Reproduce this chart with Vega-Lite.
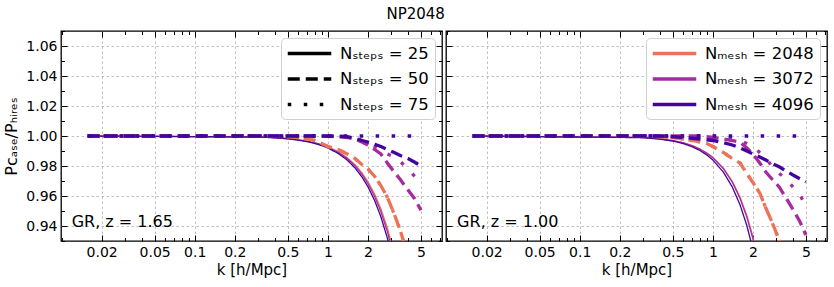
{
"$schema": "https://vega.github.io/schema/vega-lite/v6.json",
"padding": {"left": 3, "top": 6, "right": 8, "bottom": 4},
"title": {"text": "NP2048", "fontSize": 15, "fontWeight": "normal", "font": "DejaVu Sans", "anchor": "middle", "offset": 8, "color": "#000"},
"datasets": {
"labels": [{"p": "L", "label": "GR, z = 1.65"}, {"p": "R", "label": "GR, z = 1.00"}],
"curves": [
{"p":"L","m":2048,"s":25,"k":0.0157,"r":1},{"p":"L","m":2048,"s":25,"k":0.3,"r":0.9994},{"p":"L","m":2048,"s":25,"k":0.4,"r":0.9989},{"p":"L","m":2048,"s":25,"k":0.5,"r":0.9983},{"p":"L","m":2048,"s":25,"k":0.6,"r":0.9975},{"p":"L","m":2048,"s":25,"k":0.7,"r":0.9966},{"p":"L","m":2048,"s":25,"k":0.8,"r":0.9955},{"p":"L","m":2048,"s":25,"k":0.9,"r":0.9942},{"p":"L","m":2048,"s":25,"k":1,"r":0.9928},{"p":"L","m":2048,"s":25,"k":1.2,"r":0.9895},{"p":"L","m":2048,"s":25,"k":1.4,"r":0.9855},{"p":"L","m":2048,"s":25,"k":1.6,"r":0.9809},{"p":"L","m":2048,"s":25,"k":1.8,"r":0.9755},{"p":"L","m":2048,"s":25,"k":2,"r":0.9696},{"p":"L","m":2048,"s":25,"k":2.25,"r":0.9611},{"p":"L","m":2048,"s":25,"k":2.5,"r":0.9516},{"p":"L","m":2048,"s":25,"k":2.8,"r":0.9387},{"p":"L","m":2048,"s":25,"k":3.15,"r":0.9217},{"p":"L","m":2048,"s":25,"k":3.5,"r":0.9025},
{"p":"L","m":2048,"s":50,"k":0.0157,"r":1},{"p":"L","m":2048,"s":50,"k":0.3,"r":1},{"p":"L","m":2048,"s":50,"k":0.4,"r":0.9998},{"p":"L","m":2048,"s":50,"k":0.5,"r":0.9995},{"p":"L","m":2048,"s":50,"k":0.6,"r":0.999},{"p":"L","m":2048,"s":50,"k":0.7,"r":0.998},{"p":"L","m":2048,"s":50,"k":0.8,"r":0.997},{"p":"L","m":2048,"s":50,"k":0.9,"r":0.995},{"p":"L","m":2048,"s":50,"k":1,"r":0.993},{"p":"L","m":2048,"s":50,"k":1.2,"r":0.991},{"p":"L","m":2048,"s":50,"k":1.4,"r":0.988},{"p":"L","m":2048,"s":50,"k":1.6,"r":0.985},{"p":"L","m":2048,"s":50,"k":1.8,"r":0.981},{"p":"L","m":2048,"s":50,"k":2,"r":0.978},{"p":"L","m":2048,"s":50,"k":2.25,"r":0.973},{"p":"L","m":2048,"s":50,"k":2.5,"r":0.967},{"p":"L","m":2048,"s":50,"k":2.8,"r":0.959},{"p":"L","m":2048,"s":50,"k":3.15,"r":0.948},{"p":"L","m":2048,"s":50,"k":3.5,"r":0.937},{"p":"L","m":2048,"s":50,"k":4,"r":0.92},
{"p":"L","m":2048,"s":75,"k":0.0157,"r":1},{"p":"L","m":2048,"s":75,"k":0.3,"r":1},{"p":"L","m":2048,"s":75,"k":0.4,"r":0.9998},{"p":"L","m":2048,"s":75,"k":0.5,"r":0.9995},{"p":"L","m":2048,"s":75,"k":0.6,"r":0.999},{"p":"L","m":2048,"s":75,"k":0.7,"r":0.998},{"p":"L","m":2048,"s":75,"k":0.8,"r":0.997},{"p":"L","m":2048,"s":75,"k":0.9,"r":0.995},{"p":"L","m":2048,"s":75,"k":1,"r":0.993},{"p":"L","m":2048,"s":75,"k":1.2,"r":0.991},{"p":"L","m":2048,"s":75,"k":1.4,"r":0.988},{"p":"L","m":2048,"s":75,"k":1.6,"r":0.985},{"p":"L","m":2048,"s":75,"k":1.8,"r":0.981},{"p":"L","m":2048,"s":75,"k":2,"r":0.978},{"p":"L","m":2048,"s":75,"k":2.25,"r":0.973},{"p":"L","m":2048,"s":75,"k":2.5,"r":0.967},{"p":"L","m":2048,"s":75,"k":2.8,"r":0.959},{"p":"L","m":2048,"s":75,"k":3.15,"r":0.948},{"p":"L","m":2048,"s":75,"k":3.5,"r":0.937},{"p":"L","m":2048,"s":75,"k":4,"r":0.92},
{"p":"R","m":2048,"s":25,"k":0.0157,"r":1},{"p":"R","m":2048,"s":25,"k":0.3,"r":0.999},{"p":"R","m":2048,"s":25,"k":0.4,"r":0.9982},{"p":"R","m":2048,"s":25,"k":0.5,"r":0.997},{"p":"R","m":2048,"s":25,"k":0.6,"r":0.9955},{"p":"R","m":2048,"s":25,"k":0.7,"r":0.9936},{"p":"R","m":2048,"s":25,"k":0.8,"r":0.9914},{"p":"R","m":2048,"s":25,"k":0.9,"r":0.9888},{"p":"R","m":2048,"s":25,"k":1,"r":0.9858},{"p":"R","m":2048,"s":25,"k":1.2,"r":0.9786},{"p":"R","m":2048,"s":25,"k":1.4,"r":0.9698},{"p":"R","m":2048,"s":25,"k":1.6,"r":0.9593},{"p":"R","m":2048,"s":25,"k":1.8,"r":0.947},{"p":"R","m":2048,"s":25,"k":2,"r":0.9329},{"p":"R","m":2048,"s":25,"k":2.25,"r":0.9127},
{"p":"R","m":2048,"s":50,"k":0.0157,"r":1},{"p":"R","m":2048,"s":50,"k":0.3,"r":1},{"p":"R","m":2048,"s":50,"k":0.4,"r":0.9995},{"p":"R","m":2048,"s":50,"k":0.5,"r":0.999},{"p":"R","m":2048,"s":50,"k":0.6,"r":0.998},{"p":"R","m":2048,"s":50,"k":0.7,"r":0.997},{"p":"R","m":2048,"s":50,"k":0.8,"r":0.996},{"p":"R","m":2048,"s":50,"k":0.9,"r":0.995},{"p":"R","m":2048,"s":50,"k":1,"r":0.993},{"p":"R","m":2048,"s":50,"k":1.2,"r":0.989},{"p":"R","m":2048,"s":50,"k":1.4,"r":0.985},{"p":"R","m":2048,"s":50,"k":1.6,"r":0.982},{"p":"R","m":2048,"s":50,"k":1.8,"r":0.975},{"p":"R","m":2048,"s":50,"k":2,"r":0.969},{"p":"R","m":2048,"s":50,"k":2.25,"r":0.962},{"p":"R","m":2048,"s":50,"k":2.5,"r":0.952},{"p":"R","m":2048,"s":50,"k":2.8,"r":0.942},{"p":"R","m":2048,"s":50,"k":3.15,"r":0.9305},{"p":"R","m":2048,"s":50,"k":3.5,"r":0.92},
{"p":"R","m":2048,"s":75,"k":0.0157,"r":1},{"p":"R","m":2048,"s":75,"k":0.3,"r":1},{"p":"R","m":2048,"s":75,"k":0.4,"r":0.9995},{"p":"R","m":2048,"s":75,"k":0.5,"r":0.999},{"p":"R","m":2048,"s":75,"k":0.6,"r":0.998},{"p":"R","m":2048,"s":75,"k":0.7,"r":0.997},{"p":"R","m":2048,"s":75,"k":0.8,"r":0.996},{"p":"R","m":2048,"s":75,"k":0.9,"r":0.995},{"p":"R","m":2048,"s":75,"k":1,"r":0.993},{"p":"R","m":2048,"s":75,"k":1.2,"r":0.989},{"p":"R","m":2048,"s":75,"k":1.4,"r":0.985},{"p":"R","m":2048,"s":75,"k":1.6,"r":0.982},{"p":"R","m":2048,"s":75,"k":1.8,"r":0.975},{"p":"R","m":2048,"s":75,"k":2,"r":0.969},{"p":"R","m":2048,"s":75,"k":2.25,"r":0.962},{"p":"R","m":2048,"s":75,"k":2.5,"r":0.952},{"p":"R","m":2048,"s":75,"k":2.8,"r":0.942},{"p":"R","m":2048,"s":75,"k":3.15,"r":0.9305},{"p":"R","m":2048,"s":75,"k":3.5,"r":0.92},
{"p":"L","m":3072,"s":25,"k":0.0157,"r":1},{"p":"L","m":3072,"s":25,"k":0.3,"r":0.9994},{"p":"L","m":3072,"s":25,"k":0.4,"r":0.9989},{"p":"L","m":3072,"s":25,"k":0.5,"r":0.9982},{"p":"L","m":3072,"s":25,"k":0.6,"r":0.9974},{"p":"L","m":3072,"s":25,"k":0.7,"r":0.9964},{"p":"L","m":3072,"s":25,"k":0.8,"r":0.9953},{"p":"L","m":3072,"s":25,"k":0.9,"r":0.994},{"p":"L","m":3072,"s":25,"k":1,"r":0.9925},{"p":"L","m":3072,"s":25,"k":1.2,"r":0.989},{"p":"L","m":3072,"s":25,"k":1.4,"r":0.9849},{"p":"L","m":3072,"s":25,"k":1.6,"r":0.9801},{"p":"L","m":3072,"s":25,"k":1.8,"r":0.9745},{"p":"L","m":3072,"s":25,"k":2,"r":0.9683},{"p":"L","m":3072,"s":25,"k":2.25,"r":0.9595},{"p":"L","m":3072,"s":25,"k":2.5,"r":0.9496},{"p":"L","m":3072,"s":25,"k":2.8,"r":0.9362},{"p":"L","m":3072,"s":25,"k":3.15,"r":0.9184},{"p":"L","m":3072,"s":25,"k":3.5,"r":0.8984},
{"p":"L","m":3072,"s":50,"k":0.0157,"r":1},{"p":"L","m":3072,"s":50,"k":0.8,"r":1},{"p":"L","m":3072,"s":50,"k":1,"r":0.9998},{"p":"L","m":3072,"s":50,"k":1.2,"r":0.9995},{"p":"L","m":3072,"s":50,"k":1.4,"r":0.999},{"p":"L","m":3072,"s":50,"k":1.6,"r":0.998},{"p":"L","m":3072,"s":50,"k":1.8,"r":0.996},{"p":"L","m":3072,"s":50,"k":2,"r":0.994},{"p":"L","m":3072,"s":50,"k":2.25,"r":0.991},{"p":"L","m":3072,"s":50,"k":2.5,"r":0.988},{"p":"L","m":3072,"s":50,"k":2.8,"r":0.982},{"p":"L","m":3072,"s":50,"k":3.15,"r":0.976},{"p":"L","m":3072,"s":50,"k":3.5,"r":0.971},{"p":"L","m":3072,"s":50,"k":4,"r":0.964},{"p":"L","m":3072,"s":50,"k":4.5,"r":0.958},{"p":"L","m":3072,"s":50,"k":5,"r":0.9505},
{"p":"L","m":3072,"s":75,"k":0.0157,"r":1},{"p":"L","m":3072,"s":75,"k":1.2,"r":1},{"p":"L","m":3072,"s":75,"k":1.4,"r":0.9995},{"p":"L","m":3072,"s":75,"k":1.6,"r":0.999},{"p":"L","m":3072,"s":75,"k":1.8,"r":0.997},{"p":"L","m":3072,"s":75,"k":2,"r":0.995},{"p":"L","m":3072,"s":75,"k":2.25,"r":0.993},{"p":"L","m":3072,"s":75,"k":2.5,"r":0.991},{"p":"L","m":3072,"s":75,"k":2.8,"r":0.988},{"p":"L","m":3072,"s":75,"k":3.15,"r":0.986},{"p":"L","m":3072,"s":75,"k":3.5,"r":0.983},{"p":"L","m":3072,"s":75,"k":4,"r":0.978},{"p":"L","m":3072,"s":75,"k":4.5,"r":0.973},{"p":"L","m":3072,"s":75,"k":5,"r":0.967},
{"p":"R","m":3072,"s":25,"k":0.0157,"r":1},{"p":"R","m":3072,"s":25,"k":0.3,"r":0.999},{"p":"R","m":3072,"s":25,"k":0.4,"r":0.9981},{"p":"R","m":3072,"s":25,"k":0.5,"r":0.9969},{"p":"R","m":3072,"s":25,"k":0.6,"r":0.9954},{"p":"R","m":3072,"s":25,"k":0.7,"r":0.9935},{"p":"R","m":3072,"s":25,"k":0.8,"r":0.9912},{"p":"R","m":3072,"s":25,"k":0.9,"r":0.9885},{"p":"R","m":3072,"s":25,"k":1,"r":0.9855},{"p":"R","m":3072,"s":25,"k":1.2,"r":0.9782},{"p":"R","m":3072,"s":25,"k":1.4,"r":0.9692},{"p":"R","m":3072,"s":25,"k":1.6,"r":0.9584},{"p":"R","m":3072,"s":25,"k":1.8,"r":0.9459},{"p":"R","m":3072,"s":25,"k":2,"r":0.9315},{"p":"R","m":3072,"s":25,"k":2.25,"r":0.9108},
{"p":"R","m":3072,"s":50,"k":0.0157,"r":1},{"p":"R","m":3072,"s":50,"k":0.8,"r":1},{"p":"R","m":3072,"s":50,"k":0.9,"r":0.9995},{"p":"R","m":3072,"s":50,"k":1,"r":0.999},{"p":"R","m":3072,"s":50,"k":1.2,"r":0.998},{"p":"R","m":3072,"s":50,"k":1.4,"r":0.997},{"p":"R","m":3072,"s":50,"k":1.6,"r":0.996},{"p":"R","m":3072,"s":50,"k":1.8,"r":0.992},{"p":"R","m":3072,"s":50,"k":2,"r":0.988},{"p":"R","m":3072,"s":50,"k":2.25,"r":0.982},{"p":"R","m":3072,"s":50,"k":2.5,"r":0.976},{"p":"R","m":3072,"s":50,"k":2.8,"r":0.971},{"p":"R","m":3072,"s":50,"k":3.15,"r":0.966},{"p":"R","m":3072,"s":50,"k":3.5,"r":0.9595},{"p":"R","m":3072,"s":50,"k":4,"r":0.951},{"p":"R","m":3072,"s":50,"k":4.5,"r":0.943},{"p":"R","m":3072,"s":50,"k":5,"r":0.934},
{"p":"R","m":3072,"s":75,"k":0.0157,"r":1},{"p":"R","m":3072,"s":75,"k":1,"r":1},{"p":"R","m":3072,"s":75,"k":1.2,"r":0.999},{"p":"R","m":3072,"s":75,"k":1.4,"r":0.998},{"p":"R","m":3072,"s":75,"k":1.6,"r":0.997},{"p":"R","m":3072,"s":75,"k":1.8,"r":0.995},{"p":"R","m":3072,"s":75,"k":2,"r":0.993},{"p":"R","m":3072,"s":75,"k":2.25,"r":0.989},{"p":"R","m":3072,"s":75,"k":2.5,"r":0.986},{"p":"R","m":3072,"s":75,"k":2.8,"r":0.979},{"p":"R","m":3072,"s":75,"k":3.15,"r":0.975},{"p":"R","m":3072,"s":75,"k":3.5,"r":0.972},{"p":"R","m":3072,"s":75,"k":4,"r":0.966},{"p":"R","m":3072,"s":75,"k":4.5,"r":0.961},{"p":"R","m":3072,"s":75,"k":5,"r":0.953},
{"p":"L","m":4096,"s":25,"k":0.0157,"r":1},{"p":"L","m":4096,"s":25,"k":0.3,"r":0.9993},{"p":"L","m":4096,"s":25,"k":0.4,"r":0.9988},{"p":"L","m":4096,"s":25,"k":0.5,"r":0.9981},{"p":"L","m":4096,"s":25,"k":0.6,"r":0.9972},{"p":"L","m":4096,"s":25,"k":0.7,"r":0.9962},{"p":"L","m":4096,"s":25,"k":0.8,"r":0.995},{"p":"L","m":4096,"s":25,"k":0.9,"r":0.9936},{"p":"L","m":4096,"s":25,"k":1,"r":0.992},{"p":"L","m":4096,"s":25,"k":1.2,"r":0.9883},{"p":"L","m":4096,"s":25,"k":1.4,"r":0.9839},{"p":"L","m":4096,"s":25,"k":1.6,"r":0.9787},{"p":"L","m":4096,"s":25,"k":1.8,"r":0.9728},{"p":"L","m":4096,"s":25,"k":2,"r":0.9662},{"p":"L","m":4096,"s":25,"k":2.25,"r":0.9568},{"p":"L","m":4096,"s":25,"k":2.5,"r":0.9462},{"p":"L","m":4096,"s":25,"k":2.8,"r":0.9319},{"p":"L","m":4096,"s":25,"k":3.15,"r":0.913},{"p":"L","m":4096,"s":25,"k":3.5,"r":0.892},
{"p":"L","m":4096,"s":50,"k":0.0157,"r":1},{"p":"L","m":4096,"s":50,"k":1.2,"r":1},{"p":"L","m":4096,"s":50,"k":1.4,"r":0.9995},{"p":"L","m":4096,"s":50,"k":1.6,"r":0.9985},{"p":"L","m":4096,"s":50,"k":1.8,"r":0.997},{"p":"L","m":4096,"s":50,"k":2,"r":0.996},{"p":"L","m":4096,"s":50,"k":2.25,"r":0.9945},{"p":"L","m":4096,"s":50,"k":2.5,"r":0.993},{"p":"L","m":4096,"s":50,"k":2.8,"r":0.991},{"p":"L","m":4096,"s":50,"k":3.15,"r":0.989},{"p":"L","m":4096,"s":50,"k":3.5,"r":0.987},{"p":"L","m":4096,"s":50,"k":4,"r":0.985},{"p":"L","m":4096,"s":50,"k":4.5,"r":0.9825},{"p":"L","m":4096,"s":50,"k":5,"r":0.98},
{"p":"L","m":4096,"s":75,"k":0.0157,"r":1},{"p":"L","m":4096,"s":75,"k":1,"r":1},{"p":"L","m":4096,"s":75,"k":5,"r":1},
{"p":"R","m":4096,"s":25,"k":0.0157,"r":1},{"p":"R","m":4096,"s":25,"k":0.3,"r":0.9989},{"p":"R","m":4096,"s":25,"k":0.4,"r":0.9979},{"p":"R","m":4096,"s":25,"k":0.5,"r":0.9966},{"p":"R","m":4096,"s":25,"k":0.6,"r":0.9949},{"p":"R","m":4096,"s":25,"k":0.7,"r":0.9928},{"p":"R","m":4096,"s":25,"k":0.8,"r":0.9903},{"p":"R","m":4096,"s":25,"k":0.9,"r":0.9874},{"p":"R","m":4096,"s":25,"k":1,"r":0.984},{"p":"R","m":4096,"s":25,"k":1.2,"r":0.9759},{"p":"R","m":4096,"s":25,"k":1.4,"r":0.966},{"p":"R","m":4096,"s":25,"k":1.6,"r":0.9541},{"p":"R","m":4096,"s":25,"k":1.8,"r":0.9403},{"p":"R","m":4096,"s":25,"k":2,"r":0.9244},{"p":"R","m":4096,"s":25,"k":2.25,"r":0.9016},
{"p":"R","m":4096,"s":50,"k":0.0157,"r":1},{"p":"R","m":4096,"s":50,"k":0.4,"r":1},{"p":"R","m":4096,"s":50,"k":0.5,"r":0.9995},{"p":"R","m":4096,"s":50,"k":0.6,"r":0.999},{"p":"R","m":4096,"s":50,"k":0.7,"r":0.9985},{"p":"R","m":4096,"s":50,"k":0.8,"r":0.998},{"p":"R","m":4096,"s":50,"k":0.9,"r":0.9975},{"p":"R","m":4096,"s":50,"k":1,"r":0.997},{"p":"R","m":4096,"s":50,"k":1.2,"r":0.9955},{"p":"R","m":4096,"s":50,"k":1.4,"r":0.994},{"p":"R","m":4096,"s":50,"k":1.6,"r":0.992},{"p":"R","m":4096,"s":50,"k":1.8,"r":0.99},{"p":"R","m":4096,"s":50,"k":2,"r":0.988},{"p":"R","m":4096,"s":50,"k":2.25,"r":0.986},{"p":"R","m":4096,"s":50,"k":2.5,"r":0.984},{"p":"R","m":4096,"s":50,"k":2.8,"r":0.9815},{"p":"R","m":4096,"s":50,"k":3.15,"r":0.9795},{"p":"R","m":4096,"s":50,"k":3.5,"r":0.977},{"p":"R","m":4096,"s":50,"k":4,"r":0.974},{"p":"R","m":4096,"s":50,"k":4.5,"r":0.9715},{"p":"R","m":4096,"s":50,"k":5,"r":0.9695},
{"p":"R","m":4096,"s":75,"k":0.0157,"r":1},{"p":"R","m":4096,"s":75,"k":1,"r":1},{"p":"R","m":4096,"s":75,"k":5,"r":1}
]
},
"hconcat": [
{
"width": 381, "height": 210,
"resolve": {"axis": {"x": "independent", "y": "independent"}},
"layer": [
{"mark": {"type": "rect", "color": "#000", "opacity": 0.2},
 "encoding": {
  "y": {"datum": 0.99, "type": "quantitative", "scale": {"domain": [0.93, 1.07], "nice": false, "zero": false},
   "axis": {"orient": "right", "values": [0.94,0.96,0.98,1.0,1.02,1.04,1.06], "labels": false, "tickSize": -6, "grid": false, "title": null}},
  "y2": {"datum": 1.01}}},
{"data": {"name": "curves"}, "transform": [{"filter": "datum.p == 'L' && datum.s == 25"}],
 "mark": {"type": "line", "strokeWidth": 1.3, "clip": true},
 "encoding": {
  "x": {"field": "k", "type": "quantitative", "scale": {"type": "log", "domain": [0.0099, 7.2], "nice": false},
   "axis": {"orient": "bottom", "values": [0.02,0.05,0.1,0.2,0.5,1,2,5], "format": "~g", "tickSize": -6, "labelPadding": 10, "grid": true, "title": "k [h/Mpc]", "titlePadding": 3}},
  "y": {"field": "r", "type": "quantitative", "scale": {"domain": [0.93, 1.07], "nice": false, "zero": false},
   "axis": {"orient": "left", "values": [0.94,0.96,0.98,1.0,1.02,1.04,1.06], "format": ".2f", "tickSize": -6, "labelPadding": 10, "grid": true, "title": "Pcₐₛₑ/Pₕᵢᵣₑₛ", "titlePadding": 6, "titleFontSize": 16}},
  "color": {"field": "m", "type": "nominal", "scale": {"domain": [2048,3072,4096], "range": ["#ec7258","#a52ca0","#41049d"]}, "legend": null},
  "strokeDash": {"field": "s", "type": "nominal", "scale": {"domain": [25,50,75], "range": [[1,0],[12,6],[3.5,12.5]]},
   "legend": {"title": null, "labelExpr": "'Nₛₜₑₚₛ = ' + datum.label", "symbolStrokeColor": "#000", "symbolStrokeWidth": 3.5}}}},
{"data": {"name": "curves"}, "transform": [{"filter": "datum.p == 'L' && datum.s != 25"}],
 "mark": {"type": "line", "strokeWidth": 3.3, "clip": true},
 "encoding": {
  "x": {"field": "k", "type": "quantitative", "scale": {"type": "log", "domain": [0.0099, 7.2], "nice": false},
   "axis": {"orient": "bottom", "values": [0.01,0.03,0.04,0.06,0.07,0.08,0.09,0.3,0.4,0.6,0.7,0.8,0.9,3,4,6,7], "labels": false, "tickSize": -3.5, "grid": false, "title": null}},
  "y": {"field": "r", "type": "quantitative", "scale": {"domain": [0.93, 1.07], "nice": false, "zero": false},
   "axis": {"orient": "left", "values": [0.93,0.95,0.97,0.99,1.01,1.03,1.05,1.07], "labels": false, "tickSize": -3.5, "grid": false, "title": null}},
  "color": {"field": "m", "type": "nominal", "scale": {"domain": [2048,3072,4096], "range": ["#ec7258","#a52ca0","#41049d"]}, "legend": null},
  "strokeDash": {"field": "s", "type": "nominal", "scale": {"domain": [25,50,75], "range": [[1,0],[12,6],[3.5,12.5]]},
   "legend": {"title": null, "labelExpr": "'Nₛₜₑₚₛ = ' + datum.label", "symbolStrokeColor": "#000", "symbolStrokeWidth": 3.5}}}},
{"data": {"name": "curves"}, "transform": [{"filter": "datum.p == 'L'"}],
 "mark": {"type": "point", "opacity": 0},
 "encoding": {
  "x": {"field": "k", "type": "quantitative", "scale": {"type": "log", "domain": [0.0099, 7.2], "nice": false},
   "axis": {"orient": "top", "values": [0.02,0.05,0.1,0.2,0.5,1,2,5], "labels": false, "tickSize": -6, "grid": false, "title": null}},
  "y": {"field": "r", "type": "quantitative", "scale": {"domain": [0.93, 1.07], "nice": false, "zero": false},
   "axis": {"orient": "right", "values": [0.93,0.95,0.97,0.99,1.01,1.03,1.05,1.07], "labels": false, "tickSize": -3.5, "grid": false, "title": null}}}},
{"data": {"name": "curves"}, "transform": [{"filter": "datum.p == 'L'"}],
 "mark": {"type": "point", "opacity": 0},
 "encoding": {
  "x": {"field": "k", "type": "quantitative", "scale": {"type": "log", "domain": [0.0099, 7.2], "nice": false},
   "axis": {"orient": "top", "values": [0.01,0.03,0.04,0.06,0.07,0.08,0.09,0.3,0.4,0.6,0.7,0.8,0.9,3,4,6,7], "labels": false, "tickSize": -3.5, "grid": false, "title": null}},
  "y": {"field": "r", "type": "quantitative", "scale": {"domain": [0.93, 1.07], "nice": false, "zero": false}, "axis": null}}},
{"data": {"name": "labels"}, "transform": [{"filter": "datum.p == 'L'"}],
 "mark": {"type": "text", "align": "left", "baseline": "alphabetic", "fontSize": 16, "font": "DejaVu Sans", "color": "#000"},
 "encoding": {
  "text": {"field": "label"},
  "x": {"datum": 0.0119, "type": "quantitative", "axis": null},
  "y": {"datum": 0.9391, "type": "quantitative", "axis": null}}}
]
},
{
"width": 381, "height": 210,
"resolve": {"axis": {"x": "independent", "y": "independent"}},
"layer": [
{"mark": {"type": "rect", "color": "#000", "opacity": 0.2},
 "encoding": {
  "y": {"datum": 0.99, "type": "quantitative", "scale": {"domain": [0.93, 1.07], "nice": false, "zero": false},
   "axis": {"orient": "right", "values": [0.94,0.96,0.98,1.0,1.02,1.04,1.06], "labels": false, "tickSize": -6, "grid": false, "title": null}},
  "y2": {"datum": 1.01}}},
{"data": {"name": "curves"}, "transform": [{"filter": "datum.p == 'R' && datum.s == 25"}],
 "mark": {"type": "line", "strokeWidth": 1.3, "clip": true},
 "encoding": {
  "x": {"field": "k", "type": "quantitative", "scale": {"type": "log", "domain": [0.0099, 7.2], "nice": false},
   "axis": {"orient": "bottom", "values": [0.02,0.05,0.1,0.2,0.5,1,2,5], "format": "~g", "tickSize": -6, "labelPadding": 10, "grid": true, "title": "k [h/Mpc]", "titlePadding": 3}},
  "y": {"field": "r", "type": "quantitative", "scale": {"domain": [0.93, 1.07], "nice": false, "zero": false},
   "axis": {"orient": "left", "values": [0.94,0.96,0.98,1.0,1.02,1.04,1.06], "labels": false, "tickSize": -6, "grid": true, "title": null}},
  "color": {"field": "m", "type": "nominal", "scale": {"domain": [2048,3072,4096], "range": ["#ec7258","#a52ca0","#41049d"]},
   "legend": {"title": null, "labelExpr": "'Nₘₑₛₕ = ' + datum.label", "symbolStrokeWidth": 3.5}},
  "strokeDash": {"field": "s", "type": "nominal", "scale": {"domain": [25,50,75], "range": [[1,0],[12,6],[3.5,12.5]]}, "legend": null}}},
{"data": {"name": "curves"}, "transform": [{"filter": "datum.p == 'R' && datum.s != 25"}],
 "mark": {"type": "line", "strokeWidth": 3.3, "clip": true},
 "encoding": {
  "x": {"field": "k", "type": "quantitative", "scale": {"type": "log", "domain": [0.0099, 7.2], "nice": false},
   "axis": {"orient": "bottom", "values": [0.01,0.03,0.04,0.06,0.07,0.08,0.09,0.3,0.4,0.6,0.7,0.8,0.9,3,4,6,7], "labels": false, "tickSize": -3.5, "grid": false, "title": null}},
  "y": {"field": "r", "type": "quantitative", "scale": {"domain": [0.93, 1.07], "nice": false, "zero": false},
   "axis": {"orient": "left", "values": [0.93,0.95,0.97,0.99,1.01,1.03,1.05,1.07], "labels": false, "tickSize": -3.5, "grid": false, "title": null}},
  "color": {"field": "m", "type": "nominal", "scale": {"domain": [2048,3072,4096], "range": ["#ec7258","#a52ca0","#41049d"]},
   "legend": {"title": null, "labelExpr": "'Nₘₑₛₕ = ' + datum.label", "symbolStrokeWidth": 3.5}},
  "strokeDash": {"field": "s", "type": "nominal", "scale": {"domain": [25,50,75], "range": [[1,0],[12,6],[3.5,12.5]]}, "legend": null}}},
{"data": {"name": "curves"}, "transform": [{"filter": "datum.p == 'R'"}],
 "mark": {"type": "point", "opacity": 0},
 "encoding": {
  "x": {"field": "k", "type": "quantitative", "scale": {"type": "log", "domain": [0.0099, 7.2], "nice": false},
   "axis": {"orient": "top", "values": [0.02,0.05,0.1,0.2,0.5,1,2,5], "labels": false, "tickSize": -6, "grid": false, "title": null}},
  "y": {"field": "r", "type": "quantitative", "scale": {"domain": [0.93, 1.07], "nice": false, "zero": false},
   "axis": {"orient": "right", "values": [0.93,0.95,0.97,0.99,1.01,1.03,1.05,1.07], "labels": false, "tickSize": -3.5, "grid": false, "title": null}}}},
{"data": {"name": "curves"}, "transform": [{"filter": "datum.p == 'R'"}],
 "mark": {"type": "point", "opacity": 0},
 "encoding": {
  "x": {"field": "k", "type": "quantitative", "scale": {"type": "log", "domain": [0.0099, 7.2], "nice": false},
   "axis": {"orient": "top", "values": [0.01,0.03,0.04,0.06,0.07,0.08,0.09,0.3,0.4,0.6,0.7,0.8,0.9,3,4,6,7], "labels": false, "tickSize": -3.5, "grid": false, "title": null}},
  "y": {"field": "r", "type": "quantitative", "scale": {"domain": [0.93, 1.07], "nice": false, "zero": false}, "axis": null}}},
{"data": {"name": "labels"}, "transform": [{"filter": "datum.p == 'R'"}],
 "mark": {"type": "text", "align": "left", "baseline": "alphabetic", "fontSize": 16, "font": "DejaVu Sans", "color": "#000"},
 "encoding": {
  "text": {"field": "label"},
  "x": {"datum": 0.012, "type": "quantitative", "axis": null},
  "y": {"datum": 0.9391, "type": "quantitative", "axis": null}}}
]
}
],
"spacing": 0,
"resolve": {"scale": {"x": "independent", "y": "independent", "color": "shared", "strokeDash": "shared"}, "legend": {"color": "independent", "strokeDash": "independent"}},
"config": {
 "font": "DejaVu Sans",
 "view": {"stroke": "#000", "strokeWidth": 1.3},
 "axis": {"domain": false, "tickColor": "#000", "tickWidth": 1, "labelFont": "DejaVu Sans", "labelFontSize": 14, "labelColor": "#000", "titleFont": "DejaVu Sans", "titleFontSize": 15, "titleColor": "#000", "titleFontWeight": "normal", "gridColor": "#b0b0b0", "gridDash": [2.5, 2.5], "gridWidth": 0.8},
 "legend": {"orient": "top-right", "offset": 7, "padding": 6, "fillColor": "#fff", "strokeColor": "#d0d0d0", "cornerRadius": 4, "symbolType": "M-2.9,0H2.9", "symbolSize": 225, "symbolOffset": 13, "labelOffset": 21, "labelFontSize": 16.5, "labelFont": "DejaVu Sans", "labelColor": "#000", "rowPadding": 7.5}
}
}
